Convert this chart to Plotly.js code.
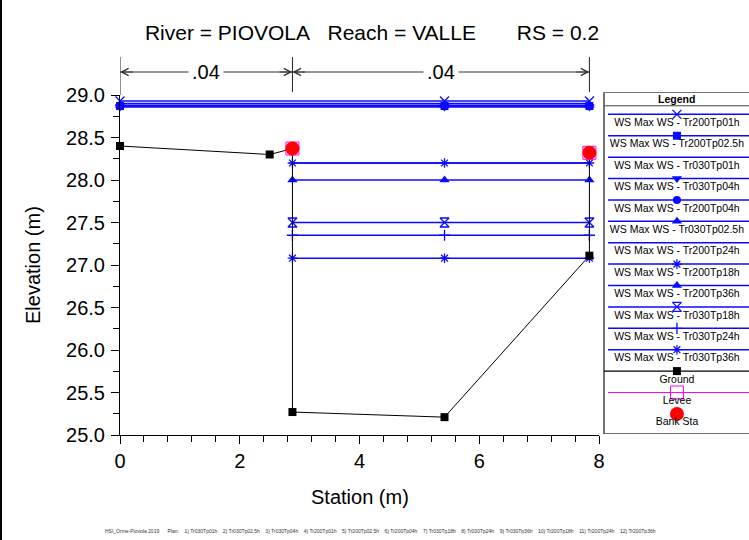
<!DOCTYPE html>
<html><head><meta charset="utf-8">
<script src="https://cdn.plot.ly/plotly-3.0.1.min.js"></script>
<style>html,body{margin:0;padding:0;background:#fff}#chart{width:749px;height:540px}</style>
</head><body><div id="chart"></div>
<script>
// ---------- data ----------
const wsNames = ['Tr200Tp01h','Tr200Tp02.5h','Tr030Tp01h','Tr030Tp04h','Tr200Tp04h','Tr030Tp02.5h','Tr200Tp24h','Tr200Tp18h','Tr200Tp36h','Tr030Tp18h','Tr030Tp24h','Tr030Tp36h'];
const wsElevations = [28.93, 28.87, 28.90, 28.86, 28.87, 28.88, 28.20, 28.20, 28.00, 27.50, 27.35, 27.08];
const wsSymbols = ['x-thin-open','square',null,'triangle-down','circle','triangle-up',null,'asterisk-open','triangle-up','hourglass-open','cross-thin-open','asterisk-open'];
const wsStationsAboveBank = [0, 5.42, 7.84];
const wsStationsInChannel = [2.88, 5.42, 7.84];
const groundStations = [0, 2.5, 2.88, 2.88, 5.42, 7.84, 7.84];
const groundElevations = [28.40, 28.30, 28.37, 25.27, 25.21, 27.11, 28.32];
const bankStations = [2.88, 7.84];
const bankElevations = [28.37, 28.32];
const leveeStations = [2.88, 7.84];
const leveeElevations = [28.37, 28.32];
const nValueStations = [0, 2.88, 7.84];
const nValues = ['.04', '.04'];
const planNames = ['Tr030Tp01h','Tr030Tp02.5h','Tr030Tp04h','Tr200Tp01h','Tr200Tp02.5h','Tr200Tp04h','Tr030Tp18h','Tr030Tp24h','Tr030Tp36h','Tr200Tp18h','Tr200Tp24h','Tr200Tp36h'];
const xTickVals = [0, 2, 4, 6, 8];
const titleText = 'River = PIOVOLA\u00a0\u00a0\u00a0Reach = VALLE\u00a0\u00a0\u00a0\u00a0\u00a0\u00a0\u00a0RS = 0.2';
const projectName = 'HSI_Orme-Piovola 2019';

// ---------- styling ----------
const FONT = 'Liberation Sans, Arial, sans-serif';
const BLUE = '#0a0aff';
function symStyle(sym, size) {
  const open = sym && (sym.indexOf('open') >= 0);
  return {symbol: sym, size: size, color: BLUE,
    line: {color: BLUE, width: open ? 1.3 : 0}};
}
const symSize = {'x-thin-open':9,'square':8,'triangle-down':9,'circle':8,'triangle-up':9,'asterisk-open':8,'hourglass-open':9,'cross-thin-open':8};

const traces = [];
const leftBankElev = bankElevations[0];
wsNames.forEach((nm, i) => {
  const st = wsElevations[i] > leftBankElev ? wsStationsAboveBank : wsStationsInChannel;
  const t = {x: st, y: st.map(() => wsElevations[i]), type: 'scatter',
    mode: wsSymbols[i] ? 'lines+markers' : 'lines', name: 'WS Max WS - ' + nm,
    line: {color: BLUE, width: 1.5}, cliponaxis: false, hoverinfo: 'skip', xaxis: 'x', yaxis: 'y'};
  if (wsSymbols[i]) t.marker = symStyle(wsSymbols[i], symSize[wsSymbols[i]]);
  traces.push(t);
});
traces.push({x: groundStations, y: groundElevations, type: 'scatter', mode: 'lines+markers', name: 'Ground',
  line: {color: '#000', width: 1}, marker: {symbol: 'square', size: 8, color: '#000'}, cliponaxis: false, hoverinfo: 'skip'});
traces.push({x: leveeStations, y: leveeElevations, type: 'scatter', mode: 'markers', name: 'Levee',
  marker: {symbol: 'square-open', size: 13, color: '#ff00ff', line: {color: '#ff00ff', width: 1}}, cliponaxis: false, hoverinfo: 'skip'});
traces.push({x: bankStations, y: bankElevations, type: 'scatter', mode: 'markers', name: 'Bank Sta',
  marker: {symbol: 'circle', size: 14, color: '#ff0000'}, cliponaxis: false, hoverinfo: 'skip'});

// ---------- custom legend (subplot x2/y2, one row per entry) ----------
const legendLabels = wsNames.map(n => 'WS Max WS - ' + n).concat(['Ground', 'Levee', 'Bank Sta']);
const LX0 = 0.028, LX1 = 1.0, LMID = 0.503;
wsNames.forEach((nm, i) => {
  traces.push({x: [LX0, LX1], y: [i, i], xaxis: 'x2', yaxis: 'y2', type: 'scatter', mode: 'lines',
    line: {color: BLUE, width: 1.5}, hoverinfo: 'skip', cliponaxis: false});
  if (wsSymbols[i]) traces.push({x: [LMID], y: [i], xaxis: 'x2', yaxis: 'y2', type: 'scatter', mode: 'markers',
    marker: symStyle(wsSymbols[i], symSize[wsSymbols[i]]), hoverinfo: 'skip', cliponaxis: false});
});
const gi = wsNames.length;
traces.push({x: [0, LX1], y: [gi, gi], xaxis: 'x2', yaxis: 'y2', type: 'scatter', mode: 'lines',
  line: {color: '#000', width: 1.2}, hoverinfo: 'skip', cliponaxis: false});
traces.push({x: [LMID], y: [gi], xaxis: 'x2', yaxis: 'y2', type: 'scatter', mode: 'markers',
  marker: {symbol: 'square', size: 8, color: '#000'}, hoverinfo: 'skip', cliponaxis: false});
traces.push({x: [LX0, LX1], y: [gi + 1, gi + 1], xaxis: 'x2', yaxis: 'y2', type: 'scatter', mode: 'lines',
  line: {color: '#ff00ff', width: 1.2}, hoverinfo: 'skip', cliponaxis: false});
traces.push({x: [LMID], y: [gi + 1], xaxis: 'x2', yaxis: 'y2', type: 'scatter', mode: 'markers',
  marker: {symbol: 'square-open', size: 13, color: '#ff00ff', line: {color: '#ff00ff', width: 1}}, hoverinfo: 'skip', cliponaxis: false});
traces.push({x: [LMID], y: [gi + 2], xaxis: 'x2', yaxis: 'y2', type: 'scatter', mode: 'markers',
  marker: {symbol: 'circle', size: 14, color: '#ff0000'}, hoverinfo: 'skip', cliponaxis: false});
traces.push({x: legendLabels.map(() => LMID), y: legendLabels.map((_, i) => i + 0.42), text: legendLabels,
  xaxis: 'x2', yaxis: 'y2', type: 'scatter', mode: 'text', textposition: 'middle center',
  textfont: {family: FONT, size: 10.5, color: '#000'}, hoverinfo: 'skip', cliponaxis: false});

// ---------- geometry (paper coords) ----------
const PW = 629, PH = 385; // plot-paper size in px (l=120, r=0, t=50, b=105)
const px = p => (p - 120) / PW;
const py = p => (435 - p) / PH;

const shapes = [];
const annotations = [];
const yArrow = py(72), yBrTop = py(57), yBrBot = py(92);
nValueStations.forEach((s, i) => {
  shapes.push({type: 'line', xref: 'x', yref: 'paper', x0: s, x1: s, y0: i === 0 ? py(95) : yBrBot, y1: yBrTop,
    line: {color: '#222', width: 1}});
});
nValues.forEach((n, i) => {
  const a = nValueStations[i], b = nValueStations[i + 1];
  shapes.push({type: 'line', xref: 'x', yref: 'paper', x0: a, x1: b, y0: yArrow, y1: yArrow, line: {color: '#333', width: 1}});
  annotations.push({xref: 'x', yref: 'paper', x: a, y: yArrow, showarrow: true, ax: 16, ay: 0,
    arrowhead: 5, arrowsize: 1.4, arrowwidth: 1, arrowcolor: '#333', standoff: 0});
  annotations.push({xref: 'x', yref: 'paper', x: b, y: yArrow, showarrow: true, ax: -16, ay: 0,
    arrowhead: 5, arrowsize: 1.4, arrowwidth: 1, arrowcolor: '#333', standoff: 0});
  annotations.push({xref: 'x', yref: 'paper', x: (a + b) / 2, y: yArrow, xanchor: 'center', yanchor: 'middle',
    text: n, showarrow: false, bgcolor: '#fff', borderpad: 3, font: {family: FONT, size: 20, color: '#000'}});
});
// legend frame
shapes.push({type: 'rect', xref: 'paper', yref: 'y2', x0: px(604), x1: 1.05, y0: -1.03, y1: 14.94,
  line: {color: '#444', width: 1.5}, fillcolor: 'rgba(0,0,0,0)', layer: 'below'});
shapes.push({type: 'line', xref: 'paper', yref: 'y2', x0: px(604), x1: 1.05, y0: -0.40, y1: -0.40,
  line: {color: '#444', width: 1}});
annotations.push({xref: 'x2', yref: 'y2', x: LMID, y: -0.70, xanchor: 'center', yanchor: 'middle',
  text: '<b>Legend</b>', showarrow: false, font: {family: FONT, size: 10.5, color: '#000'}});
// frame line at left edge of picture
shapes.push({type: 'line', xref: 'paper', yref: 'paper', x0: px(1), x1: px(1), y0: py(545), y1: py(-5),
  line: {color: '#000', width: 2}});
// axis titles
annotations.push({xref: 'paper', yref: 'paper', x: px(33), y: py(265), xanchor: 'center', yanchor: 'middle',
  text: 'Elevation (m)', textangle: -90, showarrow: false, font: {family: FONT, size: 20, color: '#000'}});
annotations.push({xref: 'paper', yref: 'paper', x: px(360), y: py(497), xanchor: 'center', yanchor: 'middle',
  text: 'Station (m)', showarrow: false, font: {family: FONT, size: 20, color: '#000'}});
// footnote
const sp = n => '\u00a0'.repeat(n);
const foot = projectName + sp(6) + 'Plan:' + sp(4) + planNames.map((p, i) => (i + 1) + ') ' + p).join(sp(4));
annotations.push({xref: 'paper', yref: 'paper', x: px(103), y: py(531), xanchor: 'left', yanchor: 'middle', text: foot,
  showarrow: false, font: {family: FONT, size: 5, color: '#333'}});

const layout = {
  width: 749, height: 540, paper_bgcolor: '#fff', plot_bgcolor: '#fff',
  margin: {l: 120, r: 0, t: 50, b: 105},
  showlegend: false,
  title: {text: titleText, font: {family: FONT, size: 21, color: '#000'}, x: 372 / 749, xanchor: 'center',
    xref: 'container', y: 1 - 33 / 540, yanchor: 'middle', yref: 'container'},
  xaxis: {domain: [0, px(599)], range: [0, 8], tickvals: xTickVals, ticks: 'outside', ticklen: 8, tickcolor: '#000',
    showline: true, linecolor: '#000', linewidth: 1, showgrid: false, zeroline: false,
    tickfont: {family: FONT, size: 20, color: '#000'},
    minor: {dtick: 0.4, ticks: 'outside', ticklen: 6, tickcolor: '#000', showgrid: false}, anchor: 'y'},
  yaxis: {domain: [0, py(95)], range: [25, 29], dtick: 0.5, tick0: 25, tickformat: '.1f', ticks: 'outside', ticklen: 8,
    tickcolor: '#000', showline: true, linecolor: '#000', linewidth: 1, showgrid: false, zeroline: false,
    tickfont: {family: FONT, size: 20, color: '#000'}, ticklabelstandoff: 2,
    minor: {dtick: 0.25, ticks: 'outside', ticklen: 6, tickcolor: '#000', showgrid: false}, anchor: 'x'},
  xaxis2: {domain: [px(604), 1], range: [0, 1], visible: false, fixedrange: true, anchor: 'y2'},
  yaxis2: {domain: [py(434), py(92.3)], range: [14.94, -1.03], visible: false, fixedrange: true, anchor: 'x2'},
  shapes: shapes, annotations: annotations
};
Plotly.newPlot('chart', traces, layout, {staticPlot: true, displayModeBar: false});
</script></body></html>
